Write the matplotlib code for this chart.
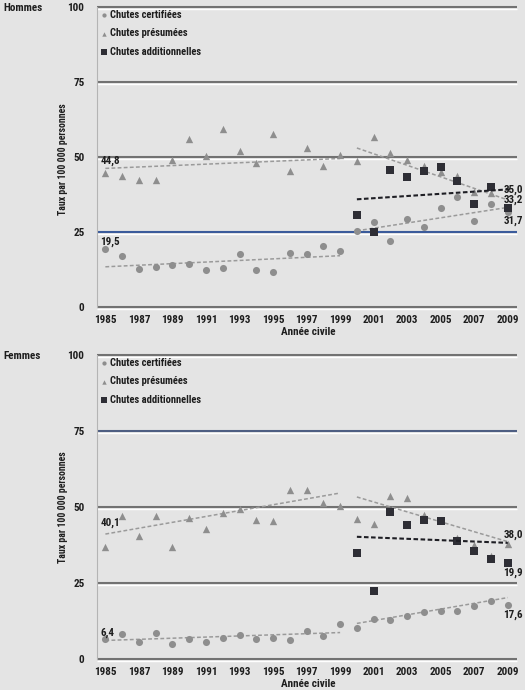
import matplotlib
matplotlib.use('Agg')
import matplotlib.pyplot as plt
from matplotlib import font_manager

# pick a condensed face if one is installed
_cands = ['Liberation Sans Narrow', 'Roboto Condensed', 'Open Sans Condensed', 'DejaVu Sans']
_cond = {f.name for f in font_manager.fontManager.ttflist
         if str(f.stretch) in ('condensed', 'semi-condensed', 'extra-condensed', '75', '87', '62')}
_names = {f.name for f in font_manager.fontManager.ttflist}
FACE = 'DejaVu Sans'
for c in _cands:
    if c in _names and (c == 'Liberation Sans Narrow' or c in _cond):
        FACE = c
        break
plt.rcParams['font.family'] = [FACE, 'DejaVu Sans']
plt.rcParams['font.stretch'] = 'condensed'
plt.rcParams['font.weight'] = 'semibold'

# ---------------- data ----------------
years = list(range(1985, 2010))
years_add = list(range(2000, 2010))
xticks = list(range(1985, 2010, 2))
yticks = [0, 25, 50, 75, 100]

series_names = ['Chutes certifiées', 'Chutes présumées', 'Chutes additionnelles']

# Hommes
h_cert = [19.5, 17.1, 12.8, 13.3, 14.0, 14.3, 12.3, 12.9, 17.6, 12.2, 11.6, 17.9, 17.6,
          20.4, 18.7, 25.3, 28.2, 22.0, 29.4, 26.6, 32.9, 36.6, 28.7, 34.2, 31.7]
h_pres = [44.8, 43.7, 42.2, 42.3, 49.0, 55.9, 50.4, 59.2, 52.0, 47.9, 57.7, 45.3, 53.1,
          46.9, 50.8, 48.6, 56.6, 51.2, 48.9, 47.1, 45.1, 43.7, 38.4, 37.9, 33.5]
h_add = [30.7, 24.9, 45.7, 43.4, 45.3, 46.8, 42.1, 34.2, 40.1, 32.9]

# Femmes
f_cert = [6.6, 8.2, 5.7, 8.5, 4.9, 6.6, 5.5, 6.8, 7.8, 6.6, 6.8, 6.4, 9.3,
          7.7, 11.4, 10.3, 13.2, 12.8, 14.1, 15.5, 15.7, 15.7, 17.3, 19.0, 17.7]
f_pres = [36.7, 47.0, 40.4, 47.2, 36.9, 46.5, 42.9, 47.9, 49.4, 45.6, 45.3, 55.5, 55.5,
          51.2, 50.3, 45.9, 44.4, 53.6, 52.8, 47.5, 45.8, 39.8, 37.6, 34.0, 37.8]
f_add = [35.0, 22.5, 48.5, 44.2, 45.6, 45.4, 38.7, 35.6, 33.0, 31.5]

# trend lines: (start year, end year, start value, end value)
h_trends = {
    'cert1': (1985, 1999, 13.4, 17.1),
    'cert2': (2000, 2009, 25.4, 33.2),
    'pres1': (1985, 1999, 46.2, 49.5),
    'pres2': (2000, 2009, 53.0, 35.7),
    'add':   (2000, 2009.3, 35.9, 39.3),
}
f_trends = {
    'cert1': (1985, 1999, 6.1, 8.7),
    'cert2': (2000, 2009, 11.7, 20.2),
    'pres1': (1985, 1999, 41.1, 54.6),
    'pres2': (2000, 2009, 53.3, 38.6),
    'add':   (2000, 2009, 40.2, 38.2),
}

# value labels: (text, x, y)
h_labels = [('44,8', 1984.7, 48.7), ('19,5', 1984.7, 21.7),
            ('35,0', 2008.75, 39.0), ('33,2', 2008.75, 35.7), ('31,7', 2008.75, 28.8)]
f_labels = [('40,1', 1984.7, 44.9), ('6,4', 1984.7, 8.5),
            ('38,0', 2008.75, 40.8), ('19,9', 2008.75, 28.2), ('17,6', 2008.75, 14.4)]

# ---------------- style ----------------
BG = '#e4e4e4'
GRAY = '#8e8e8e'
DARK = '#2e2e35'
GRID = '#727272'
TXT = '#1e1e1e'
FS = 8.0

W, H = 525, 690
fig = plt.figure(figsize=(W / 100, H / 100), dpi=100, facecolor=BG)
renderer = fig.canvas.get_renderer()


def fit(t, target_px, vertical=False):
    """shrink a text so that its length matches the reference's length in pixels"""
    bb = t.get_window_extent(renderer=renderer)
    cur = bb.height if vertical else bb.width
    if cur > target_px:
        t.set_fontsize(t.get_fontsize() * target_px / cur)


def panel(top_px, bot_px, title, cert, pres, add, trends, labels, line_colors):
    left_px, right_px = 97, 517
    ax = fig.add_axes([left_px / W, 1 - bot_px / H, (right_px - left_px) / W, (bot_px - top_px) / H])
    ax.set_facecolor(BG)
    ax.set_xlim(1984.5, 2009.55)
    ax.set_ylim(0, 100)
    for s in ['top', 'right', 'bottom']:
        ax.spines[s].set_visible(False)
    ax.spines['left'].set_color('#b4b4b4')
    ax.spines['left'].set_linewidth(0.8)
    tr = ax.get_yaxis_transform()
    for v in yticks:
        c = line_colors.get(v, GRID)
        ax.plot([0, 1], [v - 0.5, v - 0.5], color='white', lw=1.0, zorder=1,
                transform=tr, clip_on=False, solid_capstyle='butt')
        ax.plot([0, 1], [v, v], color=c, lw=1.5, zorder=1.5,
                transform=tr, clip_on=False, solid_capstyle='butt')
    ax.set_yticks(yticks)
    ax.set_yticklabels([str(v) for v in yticks], fontsize=FS, color=TXT)
    ax.set_xticks(xticks)
    ax.set_xticklabels([str(v) for v in xticks], fontsize=FS, color=TXT)
    ax.tick_params(length=0, pad=9)
    ax.tick_params(axis='x', pad=6)

    ax.scatter(years, cert, marker='o', s=26, color=GRAY, zorder=3, label=series_names[0], linewidths=0)
    ax.scatter(years, pres, marker='^', s=28, color=GRAY, zorder=3, label=series_names[1], linewidths=0)
    ax.scatter(years_add, add, marker='s', s=38, color=DARK, zorder=4, label=series_names[2], linewidths=0)

    for key, (x0, x1, y0, y1) in trends.items():
        if key == 'add':
            ax.plot([x0, x1], [y0, y1], color='#1e1e24', lw=1.5, ls=(0, (2.2, 1.2)), zorder=5)
        else:
            ax.plot([x0, x1], [y0, y1], color='#9a9a9a', lw=1.1, ls=(0, (2.5, 1.5)), zorder=2.5)

    for t, x, y in labels:
        ax.text(x, y, t, fontsize=FS, ha='left', va='center', color=TXT, zorder=6)

    leg = ax.legend(loc='upper left', frameon=False, fontsize=7.6, handletextpad=0.0,
                    markerscale=0.6, labelspacing=0.8, borderaxespad=0.0, borderpad=0.2,
                    handlelength=1.0, bbox_to_anchor=(0.0, 0.997))
    for txt in leg.get_texts():
        txt.set_color(TXT)

    fig.text(3 / W, 1 - (top_px + 1) / H, title, fontsize=FS, va='center', ha='left', color=TXT)
    yl = fig.text(63 / W, 1 - (top_px + 152) / H, 'Taux par 100 000 personnes', fontsize=FS,
                  rotation=90, va='center', ha='center', color=TXT)
    fit(yl, 112, vertical=True)
    fig.text(308 / W, 1 - (bot_px + 25) / H, 'Année civile', fontsize=FS, va='center', ha='center',
             color=TXT)
    return ax


panel(7, 307, 'Hommes', h_cert, h_pres, h_add, h_trends, h_labels, line_colors={25: '#3b5b9b'})
panel(355, 659, 'Femmes', f_cert, f_pres, f_add, f_trends, f_labels, line_colors={75: '#4e5e82'})

fig.savefig('out.png', dpi=100, facecolor=BG)
